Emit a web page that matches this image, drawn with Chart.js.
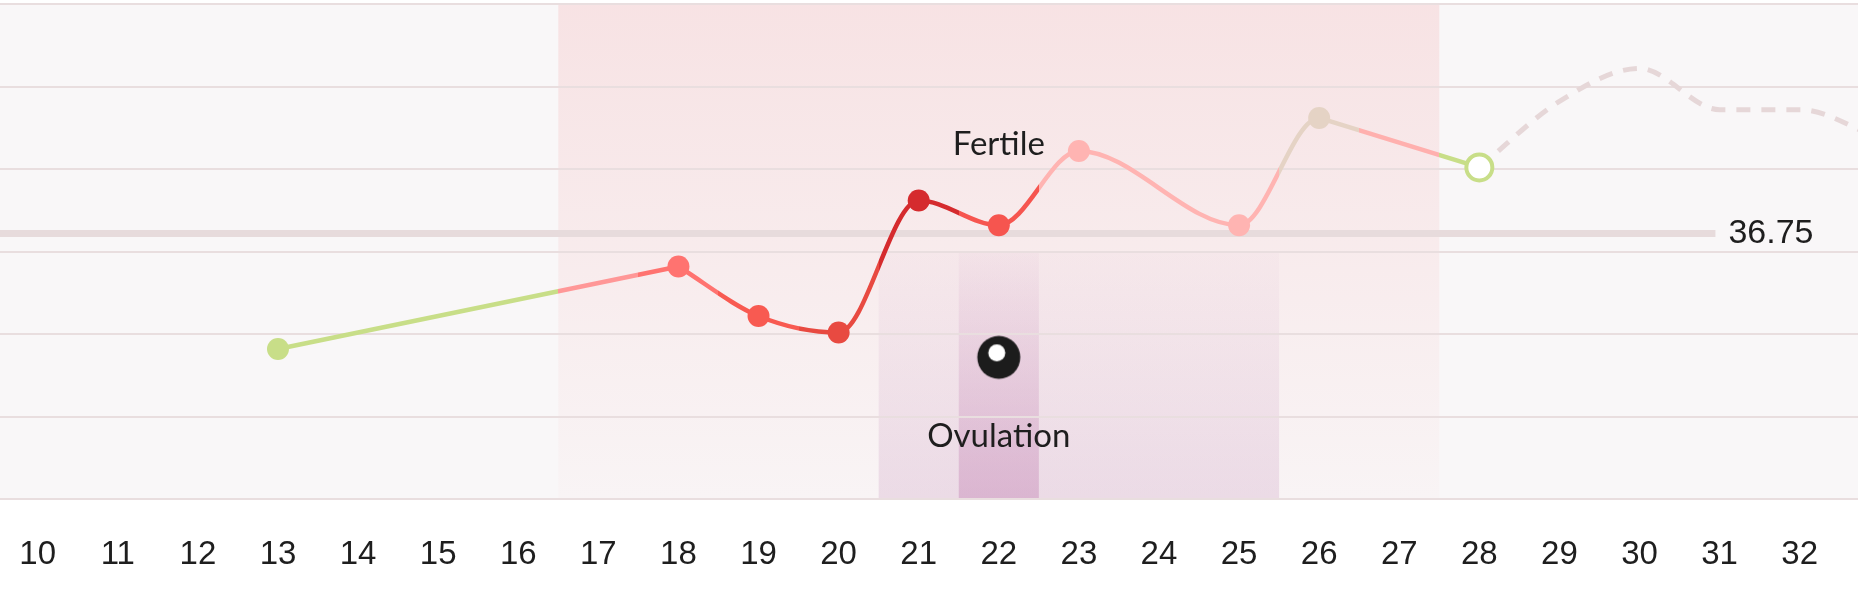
<!DOCTYPE html>
<html>
<head>
<meta charset="utf-8">
<script src="https://cdn.jsdelivr.net/npm/chart.js@4.4.1/dist/chart.umd.min.js"></script>
<style>
  html, body { margin: 0; padding: 0; background: #ffffff; }
  #wrap { position: relative; width: 1862px; height: 600px; }
</style>
</head>
<body>
<div id="wrap"><canvas id="c"></canvas></div>
<script>
// ---------- data ----------
const xTicks = [10, 11, 12, 13, 14, 15, 16, 17, 18, 19, 20, 21, 22, 23, 24, 25, 26, 27, 28, 29, 30, 31, 32];
const yGridValues = [36.428, 36.528, 36.628, 36.728, 36.828, 36.928, 37.028];

const days  = [13, 18, 19, 20, 21, 22, 23, 25, 26, 28];
const temps = [36.61, 36.71, 36.65, 36.63, 36.79, 36.76, 36.85, 36.76, 36.89, 36.83];

const predDays  = [28, 29, 30, 31, 32, 33];
const predTemps = [36.83, 36.91, 36.95, 36.90, 36.90, 36.865];

const colorDays = [13, 14, 15, 16, 17, 18, 19, 20, 21, 22, 23, 24, 25, 26, 27, 28];
const dayColors = ['#c8de88', '#c8de88', '#c8de88', '#c8de88', '#ff9797', '#ff7370', '#f85a51', '#e84a41',
                   '#d52b2e', '#f6554f', '#ffb4b2', '#ffb4b2', '#ffb4b2', '#e5d3c5', '#ffb0ae', '#c8de88'];

const coverline = 36.75;
const fertileWindow = [16.5, 27.5];
const ovulationWindow = [20.5, 25.5];
const ovulationDay = 22;
const eggTemp = 36.60;
const fertileLabel = 'Fertile';
const ovulationLabel = 'Ovulation';
const smoothRange = [18, 26];

// ---------- helpers ----------
const X_MIN = 9.529, X_MAX = 32.728;
const Y_MIN = yGridValues[0], Y_MAX = yGridValues[yGridValues.length - 1];
const colorOf = d => dayColors[colorDays.indexOf(d)];
const HIDDEN = 'rgba(0,0,0,0)';
let lineGrad = null;

// egg (ovulation) marker image
const egg = document.createElement('canvas');
egg.width = 46; egg.height = 46;
(function () {
  const g = egg.getContext('2d');
  g.fillStyle = '#1c1c1c';
  g.beginPath(); g.arc(23, 23, 21.5, 0, Math.PI * 2); g.fill();
  g.fillStyle = '#ffffff';
  g.beginPath(); g.arc(21, 18.5, 8.5, 0, Math.PI * 2); g.fill();
})();

const allPts = days.map((d, i) => ({ x: d, y: temps[i] }));
const smoothStart = days.indexOf(smoothRange[0]);
const smoothPts = allPts.slice(smoothStart);
const predPts = predDays.map((d, i) => ({ x: d, y: predTemps[i] }));

const gradPlugin = {
  id: 'grad',
  afterLayout(chart) {
    const ca = chart.chartArea, xs = chart.scales.x;
    if (!ca || !xs) return;
    const g = chart.ctx.createLinearGradient(ca.left, 0, ca.right, 0);
    const w = ca.right - ca.left;
    const f = v => Math.min(1, Math.max(0, (xs.getPixelForValue(v) - ca.left) / w));
    colorDays.forEach((d, i) => {
      const a = i === 0 ? 0 : f(d - 0.5);
      const b = i === colorDays.length - 1 ? 1 : f(d + 0.5);
      g.addColorStop(a, dayColors[i]);
      g.addColorStop(b, dayColors[i]);
    });
    lineGrad = g;
  }
};

const bgPlugin = {
  id: 'bg',
  beforeDraw(chart) {
    const { ctx, chartArea: ca, scales } = chart;
    const xs = scales.x, ys = scales.y;
    ctx.save();
    ctx.fillStyle = '#ffffff';
    ctx.fillRect(0, 0, chart.width, chart.height);
    ctx.fillStyle = '#f9f7f8';
    ctx.fillRect(ca.left, ca.top, ca.right - ca.left, ca.bottom - ca.top);

    // fertile window
    const fx0 = xs.getPixelForValue(fertileWindow[0]);
    const fx1 = xs.getPixelForValue(fertileWindow[1]);
    let g = ctx.createLinearGradient(0, ca.top, 0, ca.bottom);
    g.addColorStop(0, 'rgba(244,190,192,0.36)');
    g.addColorStop(1, 'rgba(244,190,192,0.05)');
    ctx.fillStyle = g;
    ctx.fillRect(fx0, ca.top, fx1 - fx0, ca.bottom - ca.top);

    // ovulation window
    const oTop = ys.getPixelForValue(yGridValues[3]);
    const ox0 = xs.getPixelForValue(ovulationWindow[0]);
    const ox1 = xs.getPixelForValue(ovulationWindow[1]);
    g = ctx.createLinearGradient(0, oTop, 0, ca.bottom);
    g.addColorStop(0, 'rgba(205,160,195,0.05)');
    g.addColorStop(1, 'rgba(205,160,195,0.30)');
    ctx.fillStyle = g;
    ctx.fillRect(ox0, oTop, ox1 - ox0, ca.bottom - oTop);

    const px0 = xs.getPixelForValue(ovulationDay - 0.5);
    const px1 = xs.getPixelForValue(ovulationDay + 0.5);
    g = ctx.createLinearGradient(0, oTop, 0, ca.bottom);
    g.addColorStop(0, 'rgba(200,140,185,0.05)');
    g.addColorStop(1, 'rgba(200,140,185,0.48)');
    ctx.fillStyle = g;
    ctx.fillRect(px0, oTop, px1 - px0, ca.bottom - oTop);
    ctx.restore();
  },
  beforeDatasetsDraw(chart) {
    const { ctx, chartArea: ca, scales } = chart;
    const yc = scales.y.getPixelForValue(coverline);
    ctx.save();
    ctx.font = '34px "Liberation Sans", Arial, sans-serif';
    const txt = coverline.toFixed(2);
    const tw = ctx.measureText(txt).width;
    const textRight = ca.right - 44.5;
    const lineEnd = textRight - tw - 13;
    ctx.strokeStyle = '#e7dbdc';
    ctx.lineWidth = 7;
    ctx.lineCap = 'butt';
    ctx.beginPath();
    ctx.moveTo(ca.left, yc);
    ctx.lineTo(lineEnd, yc);
    ctx.stroke();
    ctx.fillStyle = '#1e1e1e';
    ctx.textAlign = 'right';
    ctx.textBaseline = 'middle';
    ctx.fillText(txt, textRight, yc);
    ctx.restore();
  },
  afterDraw(chart) {
    const { ctx, scales } = chart;
    const xs = scales.x, ys = scales.y;
    ctx.save();
    ctx.fillStyle = '#1e1e1e';
    ctx.textAlign = 'center';
    ctx.textBaseline = 'alphabetic';
    ctx.font = '33px Lato, "Open Sans", sans-serif';
    ctx.fillText(fertileLabel, xs.getPixelForValue(ovulationDay), ys.getPixelForValue(36.845));
    ctx.fillText(ovulationLabel, xs.getPixelForValue(ovulationDay), ys.getPixelForValue(36.491));
    ctx.restore();
  }
};

const solidRadius = 11;
const lineW = 4.5;

new Chart(document.getElementById('c'), {
  type: 'line',
  data: {
    datasets: [
      {
        label: 'smooth',
        data: smoothPts,
        order: 0,
        cubicInterpolationMode: 'monotone',
        borderWidth: lineW,
        borderJoinStyle: 'round',
        borderColor: () => lineGrad || '#ff9797',
        segment: {
          borderColor: s => (smoothPts[s.p0DataIndex].x >= smoothRange[1] ? HIDDEN : (lineGrad || undefined))
        },
        pointRadius: ctx => (smoothPts[ctx.dataIndex] && smoothPts[ctx.dataIndex].x <= smoothRange[1] ? solidRadius : 0),
        pointBorderWidth: 0,
        pointBackgroundColor: ctx => colorOf(smoothPts[ctx.dataIndex] ? smoothPts[ctx.dataIndex].x : 18),
        pointHoverRadius: 0
      },
      {
        label: 'straight',
        data: allPts,
        order: 1,
        tension: 0,
        borderWidth: lineW,
        borderJoinStyle: 'round',
        borderColor: () => lineGrad || '#c8de88',
        segment: {
          borderColor: s => {
            const d0 = allPts[s.p0DataIndex].x;
            return (d0 < smoothRange[0] || d0 >= smoothRange[1]) ? (lineGrad || undefined) : HIDDEN;
          }
        },
        pointRadius: ctx => {
          const i = ctx.dataIndex;
          if (i === 0) return solidRadius;
          if (i === allPts.length - 1) return 13;
          return 0;
        },
        pointBorderWidth: ctx => (ctx.dataIndex === allPts.length - 1 ? 4 : 0),
        pointBorderColor: ctx => colorOf(allPts[ctx.dataIndex] ? allPts[ctx.dataIndex].x : 13),
        pointBackgroundColor: ctx => (ctx.dataIndex === allPts.length - 1 ? '#ffffff' : colorOf(allPts[ctx.dataIndex] ? allPts[ctx.dataIndex].x : 13)),
        pointHoverRadius: 0
      },
      {
        label: 'prediction',
        data: predPts,
        order: 2,
        cubicInterpolationMode: 'monotone',
        borderColor: '#e6d7d8',
        borderWidth: 5,
        borderDash: [14, 11],
        pointRadius: 0,
        pointHoverRadius: 0
      },
      {
        label: 'ovulation',
        data: [{ x: ovulationDay, y: eggTemp }],
        order: 3,
        showLine: false,
        pointStyle: egg,
        pointRadius: 21,
        pointHoverRadius: 21
      }
    ]
  },
  options: {
    responsive: true,
    maintainAspectRatio: false,
    animation: false,
    events: [],
    layout: { autoPadding: false, padding: { top: 4, right: 4, left: 0, bottom: 25 } },
    plugins: { legend: { display: false }, tooltip: { enabled: false } },
    scales: {
      x: {
        type: 'linear',
        min: X_MIN,
        max: X_MAX,
        afterBuildTicks: s => { s.ticks = xTicks.map(v => ({ value: v })); },
        afterFit: s => { s.height = 75.7; s.paddingLeft = 0; s.paddingRight = 0; },
        ticks: {
          autoSkip: false,
          maxRotation: 0,
          padding: 36,
          color: '#1e1e1e',
          font: { family: '"Liberation Sans", Arial, sans-serif', size: 33 },
          callback: v => String(v)
        },
        grid: { display: false, drawTicks: false },
        border: { display: false }
      },
      y: {
        type: 'linear',
        min: Y_MIN,
        max: Y_MAX,
        afterBuildTicks: s => { s.ticks = yGridValues.map(v => ({ value: v })); },
        afterFit: s => { s.width = 0; s.paddingTop = 0; s.paddingBottom = 0; },
        ticks: { display: false },
        grid: { color: '#e9dedf', lineWidth: 2, drawTicks: false },
        border: { display: false }
      }
    }
  },
  plugins: [gradPlugin, bgPlugin]
});
</script>
</body>
</html>
